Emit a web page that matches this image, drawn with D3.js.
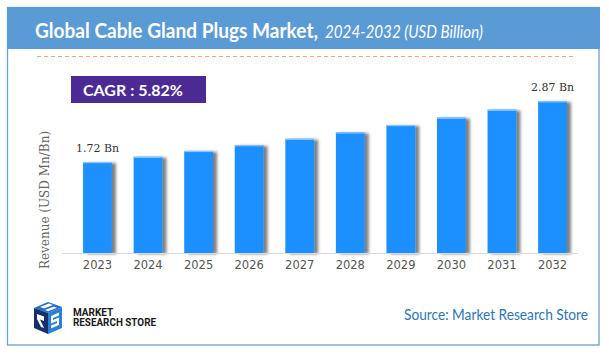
<!DOCTYPE html>
<html>
<head>
<meta charset="utf-8">
<script src="https://cdn.jsdelivr.net/npm/d3@7"></script>
<style>
  body { margin: 0; background: #fff; }
  svg { display: block; }
</style>
</head>
<body>
<svg id="chart" width="609" height="358"></svg>
<script>
// data
const years = ['2023', '2024', '2025', '2026', '2027', '2028', '2029', '2030', '2031', '2032'];
const revenue = [1.72, 1.82, 1.93, 2.04, 2.16, 2.28, 2.42, 2.56, 2.71, 2.87];
const valueLabels = ['1.72 Bn', '', '', '', '', '', '', '', '', '2.87 Bn'];
const cagr = 'CAGR : 5.82%';

const svg = d3.select('#chart');
const uiFont = 'Lato, "Open Sans", sans-serif';

// squeeze a text element into the width it has in the reference
function squeeze(sel, target) {
  sel.attr('textLength', target).attr('lengthAdjust', 'spacingAndGlyphs');
}

/**
 * FRAME + HEADER
 */
svg.append('rect')
  .attr('x', 7.5).attr('y', 7.5)
  .attr('width', 591.5).attr('height', 337.5)
  .attr('fill', '#fff')
  .attr('stroke', '#6a9fd4')
  .attr('stroke-width', 1.3);

svg.append('rect')
  .attr('x', 7).attr('y', 7)
  .attr('width', 593).attr('height', 42)
  .attr('fill', '#5b9bd5');

const t1 = svg.append('text')
  .attr('x', 35).attr('y', 37.5)
  .attr('fill', '#fff')
  .attr('font-family', uiFont)
  .attr('font-weight', 'bold')
  .attr('font-size', 20.5)
  .text('Global Cable Gland Plugs Market,');
squeeze(t1, 283);

const t2 = svg.append('text')
  .attr('x', 325).attr('y', 37.5)
  .attr('fill', '#fff')
  .attr('font-family', uiFont)
  .attr('font-style', 'italic')
  .attr('font-size', 17.5)
  .text('2024-2032 (USD Billion)');
squeeze(t2, 158);

svg.append('line')
  .attr('x1', 37).attr('x2', 576)
  .attr('y1', 56.5).attr('y2', 56.5)
  .attr('stroke', '#f4a66e')
  .attr('stroke-width', 1.2)
  .attr('stroke-dasharray', '4,3');

/**
 * CAGR BADGE
 */
svg.append('rect')
  .attr('x', 71).attr('y', 76)
  .attr('width', 135).attr('height', 27)
  .attr('fill', '#4b2a94');

const cagrText = svg.append('text')
  .attr('x', 83).attr('y', 95.5)
  .attr('fill', '#fff')
  .attr('font-family', uiFont)
  .attr('font-weight', 'bold')
  .attr('font-size', 15)
  .text(cagr);
squeeze(cagrText, 100);

/**
 * SCALES
 */
const baseY = 253;
const x = d3.scaleBand()
  .domain(years)
  .range([72.2, 577.8])
  .paddingInner(0.43)
  .paddingOuter(0.215);

const y = d3.scaleLinear()
  .domain([0, 3])
  .range([baseY, baseY - 3 * 52.9]);

/**
 * BARS
 */
const defs = svg.append('defs');
const shadow = defs.append('filter')
  .attr('id', 'bar-shadow')
  .attr('x', '-20%').attr('y', '-10%')
  .attr('width', '160%').attr('height', '120%');
shadow.append('feDropShadow')
  .attr('dx', 4).attr('dy', 1)
  .attr('stdDeviation', 1.8)
  .attr('flood-color', '#000')
  .attr('flood-opacity', 0.5);

const bars = svg.append('g')
  .selectAll('g.bar')
  .data(years.map((yr, i) => ({ year: yr, value: revenue[i], label: valueLabels[i] })))
  .join('g')
  .attr('class', 'bar');

bars.append('rect')
  .attr('x', d => x(d.year))
  .attr('y', d => y(d.value))
  .attr('width', x.bandwidth())
  .attr('height', d => baseY - y(d.value))
  .attr('fill', '#1e90ff')
  .attr('filter', 'url(#bar-shadow)');

// light top edge
bars.append('rect')
  .attr('x', d => x(d.year))
  .attr('y', d => y(d.value))
  .attr('width', x.bandwidth())
  .attr('height', 1.2)
  .attr('fill', '#8cc4ff');

bars.filter(d => d.label)
  .append('text')
  .attr('x', d => x(d.year) + x.bandwidth() / 2)
  .attr('y', d => y(d.value) - 10)
  .attr('text-anchor', 'middle')
  .attr('fill', '#333')
  .attr('font-family', '"DejaVu Serif", serif')
  .attr('font-size', 11)
  .text(d => d.label);

/**
 * AXES
 */
const xAxis = d3.axisBottom(x).tickSize(0).tickPadding(8);
const gX = svg.append('g')
  .attr('transform', `translate(0, ${baseY})`)
  .call(xAxis);
gX.select('.domain').remove();
gX.selectAll('.tick text')
  .attr('fill', '#555')
  .attr('font-family', '"DejaVu Sans", Verdana, sans-serif')
  .attr('font-size', 11.5);

svg.append('line')
  .attr('x1', 62).attr('x2', 578)
  .attr('y1', baseY + 0.5).attr('y2', baseY + 0.5)
  .attr('stroke', '#d9d9d9')
  .attr('stroke-width', 1);

svg.append('text')
  .attr('transform', 'translate(49, 200) rotate(-90)')
  .attr('text-anchor', 'middle')
  .attr('fill', '#666')
  .attr('font-family', '"DejaVu Serif", serif')
  .attr('font-size', 12)
  .text('Revenue (USD Mn/Bn)');

/**
 * FOOTER
 */
const logo = svg.append('g').attr('transform', 'translate(32, 302)');
// top face
logo.append('path').attr('d', 'M2,6 L16,0 L30,5 L16,11 Z').attr('fill', '#1c6fc6');
logo.append('path').attr('d', 'M8,5 L17,1.5 L21,3 L12,6.5 Z').attr('fill', '#ffffff');
logo.append('path').attr('d', 'M13,8 L22,4.5 L25,5.7 L16,9.2 Z').attr('fill', '#ffffff');
// left face (R)
logo.append('path').attr('d', 'M2,6 L16,11 L16,32 L2,26 Z').attr('fill', '#16306b');
logo.append('path').attr('d', 'M5,12 L12,14.5 L12,19 L8,17.5 L12,26 L9,25 L5,17 Z').attr('fill', '#ffffff');
// right face (S)
logo.append('path').attr('d', 'M16,11 L30,5 L30,26 L16,32 Z').attr('fill', '#2a7fd6');
logo.append('path').attr('d', 'M19,14 L27,10.5 L27,13.5 L21,16 L21,18 L27,15.5 L27,23 L19,26.5 L19,23.5 L25,21 L25,19 L19,21.5 Z').attr('fill', '#ffffff');

const brand = svg.append('g')
  .attr('fill', '#1a1a1a')
  .attr('font-family', '"Liberation Sans Narrow", Roboto, sans-serif')
  .attr('font-weight', 'bold')
  .attr('font-size', 10);
brand.append('text').attr('x', 73).attr('y', 315.5).text('MARKET');
squeeze(brand.append('text').attr('x', 73).attr('y', 325.5).text('RESEARCH STORE'), 83);

const source = svg.append('text')
  .attr('x', 404).attr('y', 320)
  .attr('fill', '#2e75b6')
  .attr('font-family', uiFont)
  .attr('font-size', 14.5)
  .text('Source: Market Research Store');
squeeze(source, 184);
</script>
</body>
</html>
